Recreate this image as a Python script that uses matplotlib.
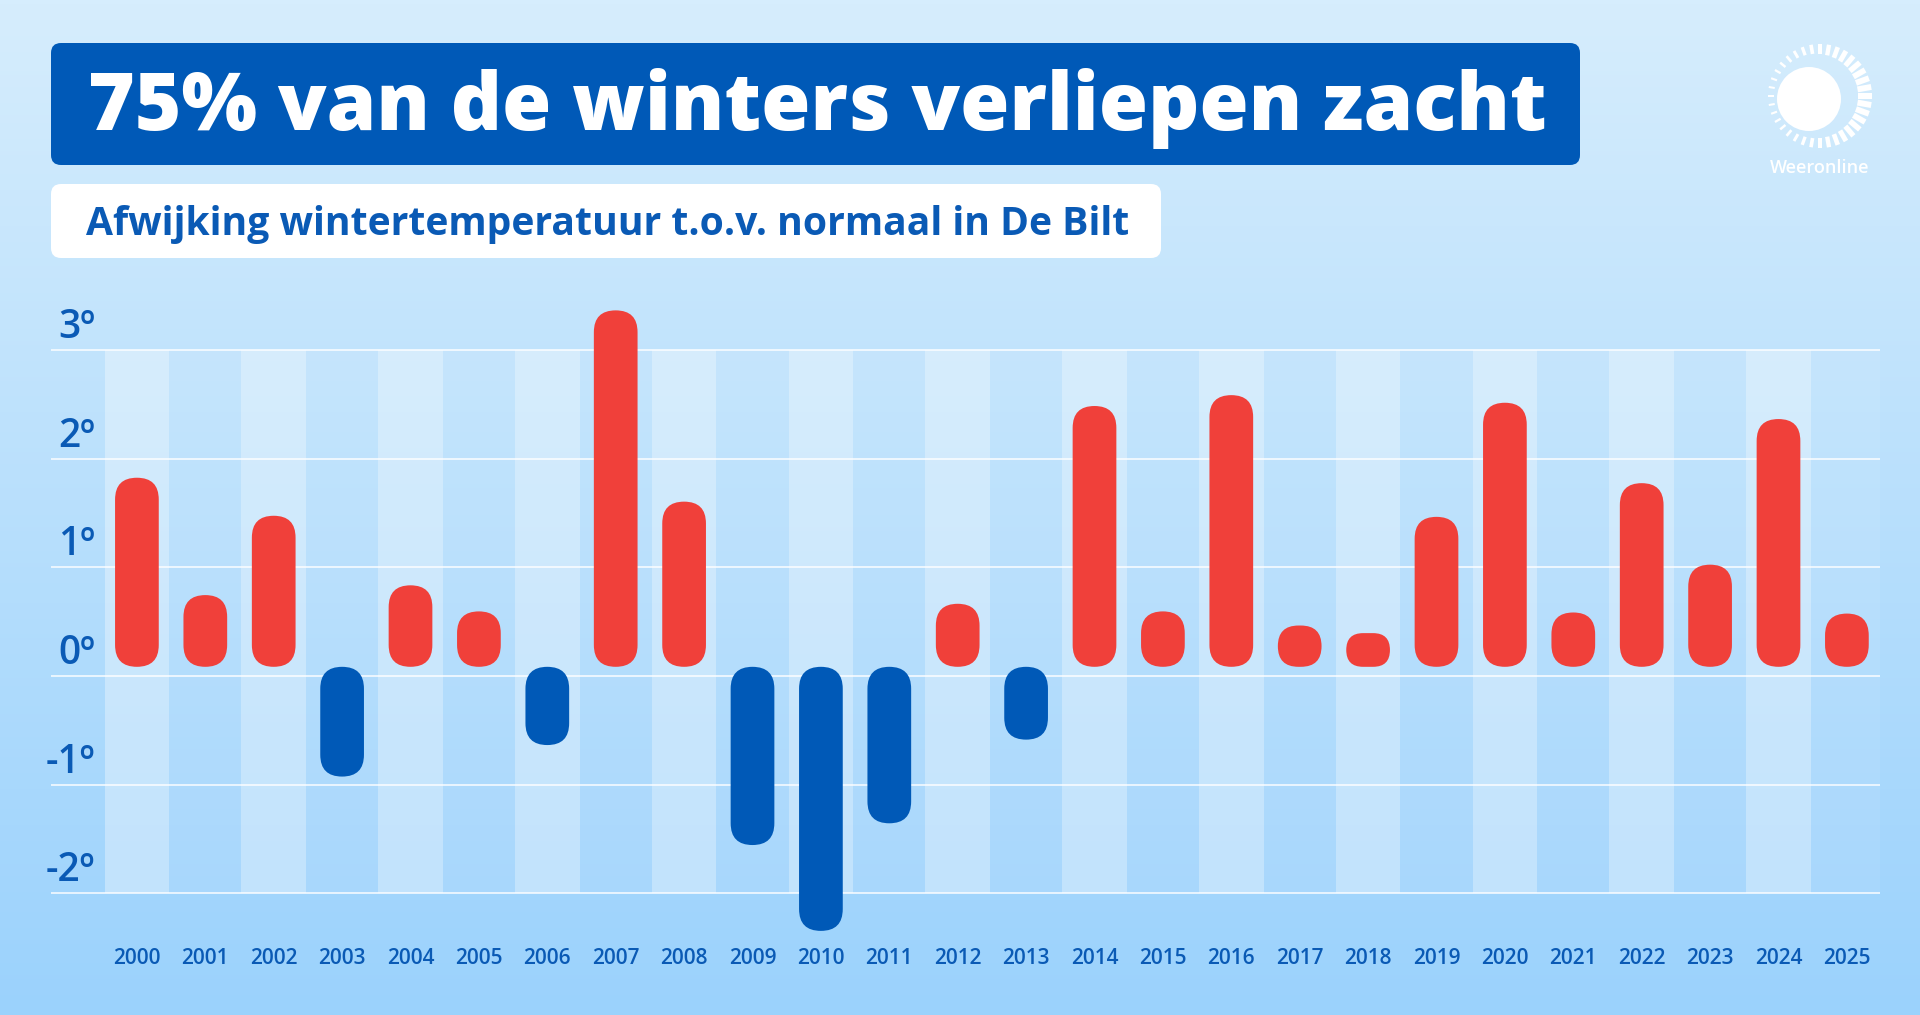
import numpy as np
import matplotlib
matplotlib.use("Agg")
import matplotlib.pyplot as plt
import matplotlib.colors as mcolors
import matplotlib.transforms as mtransforms
from matplotlib.patches import FancyBboxPatch, Rectangle, Circle

# data (deviation in degrees, bar length)
years = list(range(2000, 2026))
anomaly = [1.74, 0.66, 1.39, -1.01, 0.75, 0.51, -0.72, 3.28, 1.52, -1.64,
           -2.43, -1.44, 0.58, -0.67, 2.40, 0.51, 2.50, 0.38, 0.31, 1.38,
           2.43, 0.50, 1.69, 0.94, 2.28, 0.49]
y_ticks = [3, 2, 1, 0, -1, -2]
y_labels = ["3º", "2º", "1º", "0º", "-1º", "-2º"]

title = "75% van de winters verliepen zacht"
subtitle = "Afwijking wintertemperatuur t.o.v. normaal in De Bilt"
brand = "Weeronline"

RED = "#f0403a"
BLUE = "#0059b7"
TEXT_BLUE = "#0a5ab5"
FONT = "Open Sans"

W, H = 1920, 1015
fig = plt.figure(figsize=(W / 100, H / 100), dpi=100)

# background canvas in pixel units
bg = fig.add_axes([0, 0, 1, 1])
bg.set_xlim(0, W)
bg.set_ylim(H, 0)
bg.axis("off")
top_c = np.array(mcolors.to_rgb("#d6edfd"))
bot_c = np.array(mcolors.to_rgb("#9bd2fc"))
t = np.linspace(0, 1, 256)[:, None, None]
grad = top_c + (bot_c - top_c) * t
bg.imshow(grad, extent=(0, W, H, 0), aspect="auto", zorder=0)

# title block
bg.add_patch(FancyBboxPatch((51, 43), 1529, 122,
                            boxstyle="round,pad=0,rounding_size=10",
                            fc=BLUE, ec="none", zorder=2))
bg.text(88, 129.5, title, ha="left", va="baseline", fontsize=57.5,
        fontweight="heavy", color="white", family=FONT, zorder=3)

bg.add_patch(FancyBboxPatch((51, 184), 1110, 74,
                            boxstyle="round,pad=0,rounding_size=10",
                            fc="white", ec="none", zorder=2))
bg.text(86, 235, subtitle, ha="left", va="baseline", fontsize=28.2,
        fontweight="bold", color=TEXT_BLUE, family=FONT, zorder=3)

# logo
sun_x, sun_y = 1809, 99
bg.add_patch(Circle((sun_x, sun_y), 32, fc="white", ec="none", zorder=2))
ring_x, ring_y = 1820, 96
for k in range(36):
    th = 2 * np.pi * k / 36
    f = (1 + np.cos(th)) / 2
    r_in, r_out = 46 - 8 * f, 52
    bg.plot([ring_x + r_in * np.cos(th), ring_x + r_out * np.cos(th)],
            [ring_y - r_in * np.sin(th), ring_y - r_out * np.sin(th)],
            color="white", lw=(2 + 4 * f) * 0.72, solid_capstyle="butt",
            zorder=2)
bg.text(1820, 168, brand, ha="center", va="center", fontsize=13,
        fontweight="semibold", color="white", family=FONT, zorder=3)

# chart area
ax = fig.add_axes([51 / W, 1 - 958.6 / H, 1829 / W, 662.9 / H])
ax.set_xlim(-1.256, 25.484)
ax.set_ylim(-2.6, 3.5)
ax.axis("off")
ax.patch.set_alpha(0)

n = len(years)
stripe_w = 0.946
ax.add_patch(Rectangle((-stripe_w / 2, min(y_ticks)), 25.484 + stripe_w / 2,
                       max(y_ticks) - min(y_ticks), fc="white", alpha=0.07,
                       ec="none", zorder=1))
for i in range(0, n, 2):
    ax.add_patch(Rectangle((i - stripe_w / 2, min(y_ticks)), stripe_w,
                           max(y_ticks) - min(y_ticks), fc="white", alpha=0.3,
                           ec="none", zorder=1))

for v in y_ticks:
    ax.axhline(v, color="white", lw=1.1, alpha=0.95, zorder=2)

# rounded bars, corners kept circular on screen
p0 = ax.transData.transform((0, 0))
p1 = ax.transData.transform((1, 1))
aspect = (p1[0] - p0[0]) / (p1[1] - p0[1])
bar_w = 0.639
bar_base = 0.085
for i, v in enumerate(anomaly):
    h = abs(v)
    y0 = bar_base + min(v, 0)
    r = min(bar_w, h / aspect) / 2 * 0.999
    ax.add_patch(FancyBboxPatch((i - bar_w / 2, y0), bar_w, h,
                                boxstyle=f"round,pad=0,rounding_size={r}",
                                mutation_aspect=aspect,
                                fc=RED if v > 0 else BLUE, ec="none",
                                zorder=4))

# labels
xlab_tr = mtransforms.blended_transform_factory(ax.transData, fig.transFigure)
for i, yr in enumerate(years):
    ax.text(i, 1 - 959 / H, str(yr), transform=xlab_tr, ha="center",
            va="center", fontsize=15, fontweight="semibold", color=TEXT_BLUE,
            family=FONT, clip_on=False)

ylab_tr = mtransforms.offset_copy(
    mtransforms.blended_transform_factory(fig.transFigure, ax.transData),
    fig=fig, x=0, y=12, units="dots")
for v, lab in zip(y_ticks, y_labels):
    ax.text(95 / W, v, lab, transform=ylab_tr, ha="right", va="baseline",
            fontsize=28, fontweight="semibold", color=TEXT_BLUE, family=FONT,
            clip_on=False)

fig.savefig("out.png", dpi=100)
